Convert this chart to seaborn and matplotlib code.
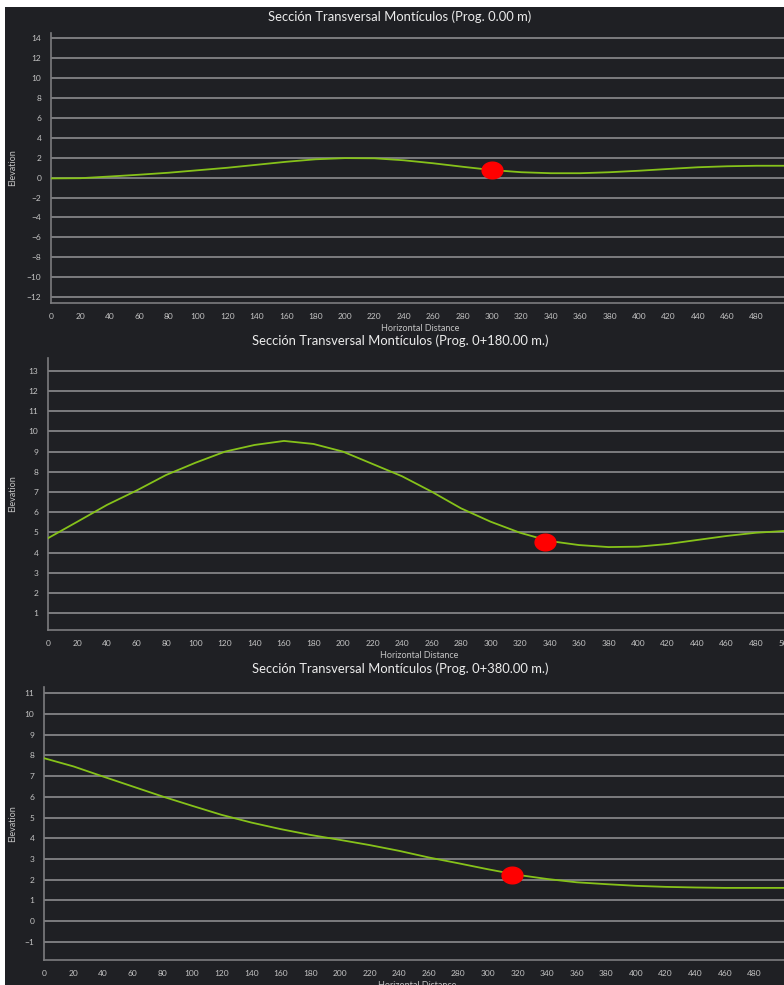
import numpy as np
import pandas as pd
import matplotlib
matplotlib.use("Agg")
import matplotlib.pyplot as plt
from matplotlib.path import Path
from matplotlib.patches import Rectangle
import seaborn as sns

# horizontal distance samples (same for every section)
dist = [0, 20, 40, 60, 80, 100, 120, 140, 160, 180, 200, 220, 240, 260,
        280, 300, 320, 340, 360, 380, 400, 420, 440, 460, 480, 500]

# elevations
elev_000 = [-0.07, -0.05, 0.12, 0.3, 0.5, 0.75, 1.0, 1.3, 1.6, 1.85, 1.97, 1.95, 1.75,
            1.45, 1.1, 0.77, 0.55, 0.45, 0.45, 0.55, 0.7, 0.88, 1.05, 1.15, 1.2, 1.2]
elev_180 = [4.71, 5.53, 6.36, 7.07, 7.84, 8.45, 9.0, 9.33, 9.53, 9.38, 9.0, 8.39, 7.78,
            7.02, 6.19, 5.53, 4.98, 4.57, 4.37, 4.27, 4.29, 4.42, 4.62, 4.82, 4.98, 5.07]
elev_380 = [7.87, 7.47, 6.98, 6.5, 6.02, 5.57, 5.13, 4.76, 4.44, 4.16, 3.92, 3.67, 3.39,
            3.07, 2.79, 2.5, 2.23, 2.03, 1.87, 1.78, 1.7, 1.65, 1.62, 1.6, 1.6, 1.6]

# red marker on each section
pt_x = [300, 337, 316]
pt_y = [0.77, 4.52, 2.23]

titles = ["Sección Transversal Montículos (Prog. 0.00 m)",
          "Sección Transversal Montículos (Prog. 0+180.00 m.)",
          "Sección Transversal Montículos (Prog. 0+380.00 m.)"]
y_ticks = [list(range(-12, 15, 2)), list(range(1, 14)), list(range(-1, 12))]
x_ticks = [list(range(0, 500, 20)), list(range(0, 501, 20)), list(range(0, 500, 20))]

BG = "#1f2024"
GRID = "#7c7c7f"
TXT = "#c4c4c4"
LINE = "#86c21a"

sns.set_theme(style="dark")
plt.rcParams["font.family"] = ["Lato", "DejaVu Sans"]

W, H = 784, 985
fig = plt.figure(figsize=(W / 100, H / 100), dpi=100)
fig.patch.set_facecolor("white")
fig.add_artist(Rectangle((5 / W, 0), 1, 1 - 7 / H, transform=fig.transFigure,
                         facecolor=BG, edgecolor="none", zorder=-10))

# ellipse marker, a bit wider than tall
t = np.linspace(0, 2 * np.pi, 60)
ellipse = Path(np.column_stack([np.cos(t), 0.8 * np.sin(t)]))

# pixel layout: left, top, bottom, px per 20 m, y-limits, title y
layout = [
    (51, 33, 303, 29.4, (-12.6, 14.55), 17),
    (48, 358, 630, 29.5, (0.16, 13.64), 341),
    (44, 687, 960, 29.6, (-1.885, 11.31), 669),
]
right_px = 790

series = [elev_000, elev_180, elev_380]
for i, (left, top, bottom, s, ylim, ty) in enumerate(layout):
    ax = fig.add_axes([left / W, (H - bottom) / H, (right_px - left) / W, (bottom - top) / H])
    ax.set_facecolor("none")
    df = pd.DataFrame({"dist": dist, "elev": series[i]})
    sns.lineplot(data=df, x="dist", y="elev", ax=ax, color=LINE, linewidth=1.3, zorder=3)
    ax.plot(pt_x[i], pt_y[i], marker=ellipse, markersize=15, color="#ff0000",
            linestyle="none", zorder=4)
    ax.set_xlim(0, (right_px - left) / s * 20)
    ax.set_ylim(*ylim)
    ax.set_xticks(x_ticks[i])
    ax.set_yticks(y_ticks[i])
    ax.grid(False)
    for yv in y_ticks[i]:
        ax.axhline(yv, color=GRID, linewidth=1.4, zorder=1)
    for side in ["top", "right"]:
        ax.spines[side].set_visible(False)
    for side in ["left", "bottom"]:
        ax.spines[side].set_visible(True)
        ax.spines[side].set_color(GRID)
        ax.spines[side].set_linewidth(1.2)
    ax.tick_params(axis="both", colors=TXT, labelsize=6, length=3, width=0.8,
                   direction="out", pad=4)
    ax.tick_params(axis="both", color=GRID)
    ax.set_xlabel("Horizontal Distance", color=TXT, fontsize=6.5, labelpad=3)
    ax.set_ylabel("Elevation", color=TXT, fontsize=6.5)
    ax.yaxis.set_label_coords((17 - left) / (right_px - left), 0.5)
    fig.text(400 / W, 1 - ty / H, titles[i], color="#ececec", fontsize=9.4,
             ha="center", va="center")

fig.savefig("out.png", dpi=100, facecolor=fig.get_facecolor())
